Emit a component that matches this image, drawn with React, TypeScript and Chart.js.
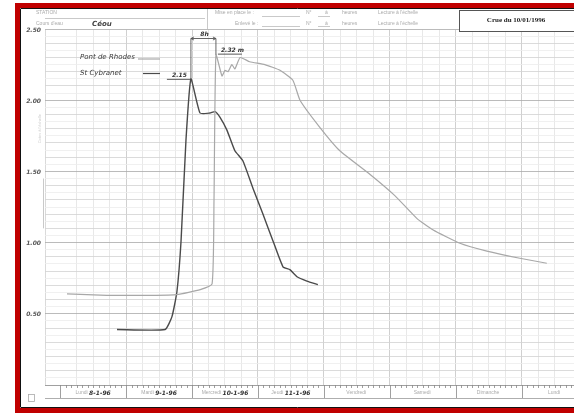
import { useEffect, useRef } from "react";
import { Chart, registerables } from "chart.js";

Chart.register(...registerables);

// Hours counted from Monday 8-1-96 00:00
const RHODES_HOURS = [2.5, 17, 33, 42.5, 51, 55.3, 56, 56.7, 58.9, 60, 61.1, 62.5, 63.6, 65.5, 69, 74.5, 80, 84.7, 87.3, 94.5, 101.8, 112.7, 121.8, 129.8, 135.6, 145.5, 155.3, 167.3, 177.1];
const RHODES_LEVELS = [0.64, 0.63, 0.63, 0.635, 0.67, 0.71, 1.3, 2.32, 2.17, 2.21, 2.2, 2.25, 2.22, 2.3, 2.27, 2.25, 2.21, 2.14, 2.0, 1.81, 1.645, 1.48, 1.33, 1.17, 1.09, 0.995, 0.94, 0.89, 0.855];
const CYBRANET_HOURS = [20.7, 38.2, 40.7, 42.5, 44, 45.8, 47.6, 50.9, 54.5, 56.4, 58.2, 60.7, 63.6, 66.5, 70.2, 73.8, 77.5, 81.1, 83.6, 86.2, 89.8, 93.8];
const CYBRANET_LEVELS = [0.39, 0.39, 0.48, 0.655, 1.01, 1.72, 2.15, 1.91, 1.91, 1.92, 1.88, 1.79, 1.645, 1.575, 1.38, 1.2, 1.01, 0.83, 0.81, 0.76, 0.73, 0.705];

const SERIES_NAMES = ["Pont de Rhodes", "St Cybranet"];
const DAY_NAMES = ["Lundi", "Mardi", "Mercredi", "Jeudi", "Vendredi", "Samedi", "Dimanche", "Lundi"];
const DAY_DATES = ["8-1-96", "9-1-96", "10-1-96", "11-1-96", "", "", "", ""];
const Y_LABEL_VALUES = [0.5, 1.0, 1.5, 2.0, 2.5];
const PEAK_LABELS = ["2.32 m", "2.15"];
const GAP_LABEL = "8h";
const TITLE = "Crue du 10/01/1996";
const RIVER = "Céou";
const X_MIN = -5.5;
const X_MAX = 187;

const DARK = "#4a4a4a";
const LIGHT = "#a8a8a8";

const paperPlugin = {
  id: "paper",
  beforeDraw(chart: any) {
    const { ctx, width, height } = chart;
    ctx.save();
    ctx.fillStyle = "#ffffff";
    ctx.fillRect(0, 0, width, height);
    ctx.restore();
  },
  afterDraw(chart: any) {
    const { ctx, chartArea, scales } = chart;
    const xs = scales.x;
    const ys = scales.y;
    const L = chartArea.left;
    const R = chartArea.right;
    const B = chartArea.bottom;
    const T = chartArea.top;
    ctx.save();

    // header rows
    ctx.fillStyle = "#ffffff";
    ctx.fillRect(22, 9, 552, T - 9);
    ctx.strokeStyle = "#bbbbbb";
    ctx.lineWidth = 0.8;
    ctx.beginPath();
    ctx.moveTo(L, 18.5); ctx.lineTo(205, 18.5);
    ctx.moveTo(L, T + 0.5); ctx.lineTo(R, T + 0.5);
    ctx.moveTo(207.5, 9); ctx.lineTo(207.5, T);
    ctx.moveTo(262, 16.5); ctx.lineTo(300, 16.5);
    ctx.moveTo(262, 26.5); ctx.lineTo(300, 26.5);
    ctx.moveTo(318, 16.5); ctx.lineTo(330, 16.5);
    ctx.moveTo(318, 26.5); ctx.lineTo(330, 26.5);
    ctx.stroke();
    ctx.fillStyle = "#aaaaaa";
    ctx.font = "5px 'Liberation Sans'";
    ctx.textAlign = "left";
    ctx.textBaseline = "middle";
    ctx.fillText("STATION", 36, 13);
    ctx.fillText("Cours d'eau", 36, 24);
    ctx.fillText("Mise en place le :", 215, 13);
    ctx.fillText("Enlevé le :", 235, 24);
    ctx.fillText("N°", 306, 13);
    ctx.fillText("N°", 306, 24);
    ctx.fillText("à", 325, 13);
    ctx.fillText("à", 325, 24);
    ctx.fillText("heures", 342, 13);
    ctx.fillText("heures", 342, 24);
    ctx.fillText("Lecture à l'échelle", 378, 13);
    ctx.fillText("Lecture à l'échelle", 378, 24);
    ctx.fillStyle = "#444444";
    ctx.font = "italic bold 7px 'DejaVu Sans'";
    ctx.fillText(RIVER, 92, 24);

    // title box
    ctx.fillStyle = "#ffffff";
    ctx.fillRect(459, 10, 115, 22);
    ctx.strokeStyle = "#555555";
    ctx.lineWidth = 1;
    ctx.strokeRect(459.5, 10.5, 118, 21);
    ctx.fillStyle = "#222222";
    ctx.font = "bold 7px 'Liberation Serif'";
    ctx.textAlign = "center";
    ctx.fillText(TITLE, 516, 20);

    // y labels
    ctx.fillStyle = "#555555";
    ctx.font = "italic bold 6px 'DejaVu Sans'";
    ctx.textAlign = "right";
    for (const v of Y_LABEL_VALUES) {
      ctx.fillText(v.toFixed(2), 41, ys.getPixelForValue(v) + 1);
    }
    ctx.strokeStyle = "#bbbbbb";
    ctx.lineWidth = 0.8;
    ctx.beginPath();
    ctx.moveTo(43.5, ys.getPixelForValue(1.45));
    ctx.lineTo(43.5, ys.getPixelForValue(1.1));
    ctx.stroke();
    ctx.save();
    ctx.translate(40, ys.getPixelForValue(1.8));
    ctx.rotate(-Math.PI / 2);
    ctx.fillStyle = "#cccccc";
    ctx.font = "4px 'Liberation Sans'";
    ctx.textAlign = "center";
    ctx.fillText("Cotes à l'échelle", 0, 0);
    ctx.restore();

    // bottom day band
    const bandTop = B;
    const bandBot = B + 13;
    ctx.fillStyle = "#ffffff";
    ctx.fillRect(L, bandTop + 1, R - L, 13);
    ctx.strokeStyle = "#999999";
    ctx.lineWidth = 0.8;
    ctx.beginPath();
    ctx.moveTo(L, bandTop + 0.5); ctx.lineTo(R, bandTop + 0.5);
    ctx.moveTo(L, bandBot + 0.5); ctx.lineTo(R, bandBot + 0.5);
    ctx.stroke();
    ctx.strokeStyle = "#888888";
    ctx.beginPath();
    for (let h = 0; h <= X_MAX; h += 2) {
      const px = Math.round(xs.getPixelForValue(h)) + 0.5;
      ctx.moveTo(px, bandTop);
      ctx.lineTo(px, bandTop + (h % 24 === 0 ? 13 : 3));
    }
    ctx.stroke();
    for (let i = 0; i < DAY_NAMES.length; i++) {
      const cx = xs.getPixelForValue(i * 24 + 12);
      const name = DAY_NAMES[i];
      const date = DAY_DATES[i];
      ctx.font = "5px 'Liberation Sans'";
      const w1 = ctx.measureText(name + " ").width;
      ctx.font = "italic bold 6px 'DejaVu Sans'";
      const w2 = date ? ctx.measureText(date).width : 0;
      let x0 = cx - (w1 + w2) / 2;
      ctx.textAlign = "left";
      ctx.fillStyle = "#aaaaaa";
      ctx.font = "5px 'Liberation Sans'";
      ctx.fillText(name, x0, bandTop + 8);
      if (date) {
        ctx.fillStyle = "#333333";
        ctx.font = "italic bold 6px 'DejaVu Sans'";
        ctx.fillText(date, x0 + w1, bandTop + 8);
      }
    }
    ctx.strokeStyle = "#aaaaaa";
    ctx.strokeRect(28.5, 394.5, 6, 7);

    // legend (handwritten)
    ctx.textAlign = "left";
    ctx.fillStyle = "#3a3a3a";
    ctx.font = "italic 7px 'DejaVu Sans'";
    ctx.fillText(SERIES_NAMES[0], 80, 57);
    ctx.fillText(SERIES_NAMES[1], 80, 73);
    ctx.lineWidth = 1.2;
    ctx.strokeStyle = LIGHT;
    ctx.beginPath(); ctx.moveTo(138, 59); ctx.lineTo(160, 59); ctx.stroke();
    ctx.strokeStyle = DARK;
    ctx.beginPath(); ctx.moveTo(143, 73.5); ctx.lineTo(160, 73.5); ctx.stroke();

    // peak annotations
    const iR = RHODES_LEVELS.indexOf(Math.max(...RHODES_LEVELS));
    const iC = CYBRANET_LEVELS.indexOf(Math.max(...CYBRANET_LEVELS));
    const pRx = xs.getPixelForValue(RHODES_HOURS[iR]);
    const pRy = ys.getPixelForValue(RHODES_LEVELS[iR]);
    const pCx = xs.getPixelForValue(CYBRANET_HOURS[iC]);
    const pCy = ys.getPixelForValue(CYBRANET_LEVELS[iC]);
    ctx.fillStyle = "#333333";
    ctx.font = "italic bold 6px 'DejaVu Sans'";
    ctx.textAlign = "left";
    ctx.fillText(PEAK_LABELS[0], pRx + 5, pRy - 4);
    ctx.strokeStyle = "#444444";
    ctx.lineWidth = 0.9;
    ctx.beginPath(); ctx.moveTo(pRx + 2, pRy - 0.5); ctx.lineTo(pRx + 26, pRy - 0.5); ctx.stroke();
    ctx.textAlign = "right";
    ctx.fillText(PEAK_LABELS[1], pCx - 4, pCy - 3);
    ctx.beginPath(); ctx.moveTo(pCx - 24, pCy + 0.5); ctx.lineTo(pCx, pCy + 0.5); ctx.stroke();
    // 8h bracket
    const by = 38.5;
    ctx.strokeStyle = "#555555";
    ctx.lineWidth = 0.9;
    ctx.beginPath();
    ctx.moveTo(pCx, by); ctx.lineTo(pCx, pCy);
    ctx.moveTo(pRx, by); ctx.lineTo(pRx, pRy);
    ctx.moveTo(pCx, by); ctx.lineTo(pRx, by);
    ctx.moveTo(pCx + 3, by - 1.5); ctx.lineTo(pCx, by); ctx.lineTo(pCx + 3, by + 1.5);
    ctx.moveTo(pRx - 3, by - 1.5); ctx.lineTo(pRx, by); ctx.lineTo(pRx - 3, by + 1.5);
    ctx.stroke();
    ctx.textAlign = "center";
    ctx.fillText(GAP_LABEL, (pCx + pRx) / 2 + 1, by - 4);

    // frame
    ctx.fillStyle = "#c00000";
    ctx.fillRect(15, 3, 574 - 15, 5);
    ctx.fillRect(15, 3, 5, 410);
    ctx.fillRect(15, 408, 574 - 15, 5);
    ctx.strokeStyle = "#111111";
    ctx.lineWidth = 1;
    ctx.beginPath();
    ctx.moveTo(21, 8.5); ctx.lineTo(574, 8.5);
    ctx.moveTo(20.5, 8.5); ctx.lineTo(20.5, 407.5);
    ctx.moveTo(21, 407.5); ctx.lineTo(574, 407.5);
    ctx.stroke();
    ctx.restore();
  },
};

export default function App() {
  const ref = useRef<HTMLCanvasElement | null>(null);
  useEffect(() => {
    if (!ref.current) return;
    const chart = new Chart(ref.current, {
      type: "line",
      data: {
        datasets: [
          {
            label: SERIES_NAMES[0],
            data: RHODES_HOURS.map((h, i) => ({ x: h, y: RHODES_LEVELS[i] })),
            borderColor: LIGHT,
            borderWidth: 1.2,
            pointRadius: 0,
            tension: 0.15,
            fill: false,
          },
          {
            label: SERIES_NAMES[1],
            data: CYBRANET_HOURS.map((h, i) => ({ x: h, y: CYBRANET_LEVELS[i] })),
            borderColor: DARK,
            borderWidth: 1.4,
            pointRadius: 0,
            tension: 0.15,
            fill: false,
          },
        ],
      },
      options: {
        responsive: false,
        animation: false,
        layout: { padding: { top: 29, bottom: 31, left: 45, right: 0 } },
        plugins: { legend: { display: false }, tooltip: { enabled: false } },
        scales: {
          x: {
            type: "linear",
            min: X_MIN,
            max: X_MAX,
            border: { display: false },
            ticks: { display: false, stepSize: 6 },
            grid: {
              drawTicks: false,
              lineWidth: 0.8,
              color: (c: any) => {
                const v = Math.round(c.tick.value * 10) / 10;
                if (v % 24 === 0) return "#c4c4c4";
                if (v % 6 === 0) return "#e2e2e2";
                return "#d0d0d0";
              },
            },
          },
          y: {
            min: 0,
            max: 2.5,
            border: { display: false },
            ticks: { display: false, stepSize: 0.05 },
            grid: {
              drawTicks: false,
              lineWidth: 0.8,
              color: (c: any) => {
                const v = Math.round(c.tick.value * 100);
                if (v % 50 === 0) return "#a9a9a9";
                if (v % 10 === 0) return "#d2d2d2";
                return "#ececec";
              },
            },
          },
        },
      },
      plugins: [paperPlugin],
    });
    return () => chart.destroy();
  }, []);
  return (
    <canvas
      ref={ref}
      width={574}
      height={416}
      style={{ position: "fixed", left: 0, top: 0, width: 574, height: 416 }}
    />
  );
}
